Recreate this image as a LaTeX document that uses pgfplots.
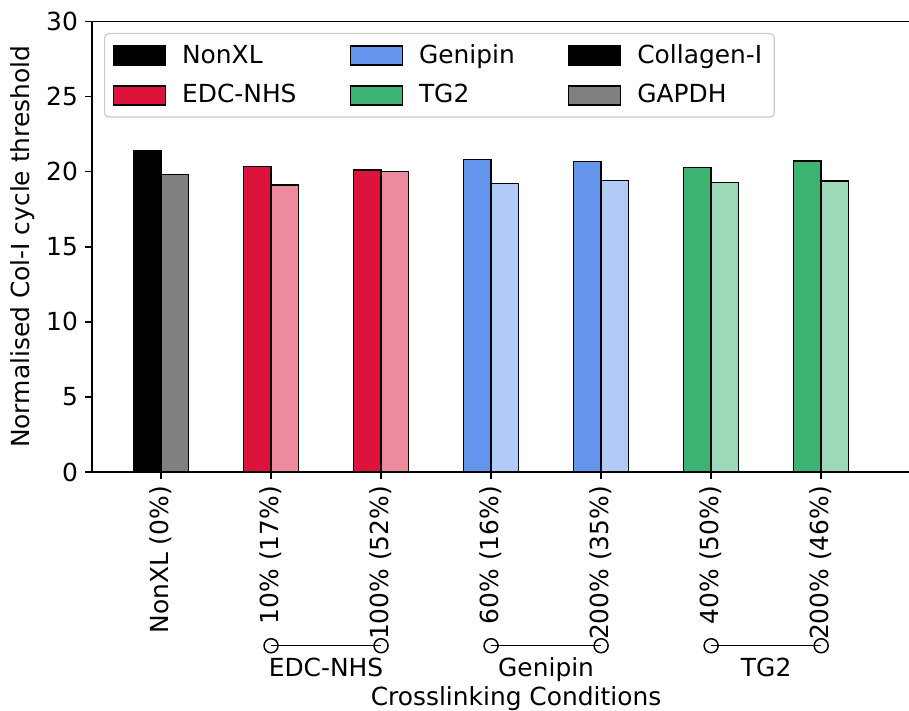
\documentclass[border=0pt]{standalone}
\usepackage{fontspec}
\setmainfont{DejaVu Sans}
\usepackage{pgfplots}
\pgfplotsset{compat=1.18}
\definecolor{crim}{HTML}{DC143C}
\definecolor{crimL}{HTML}{ED8A9E}
\definecolor{corn}{HTML}{6495ED}
\definecolor{cornL}{HTML}{B2CAF6}
\definecolor{msg}{HTML}{3CB371}
\definecolor{msgL}{HTML}{9DD9B8}
\definecolor{grayL}{HTML}{808080}
\newcommand{\fs}{\fontsize{12.45}{15}\selectfont}
\begin{document}
\begin{tikzpicture}
\pgfplotsset{darkbar/.style={ybar, bar width=0.25, bar shift=-0.125, draw=black, line width=0.8pt, forget plot,
  error bars/y dir=both, error bars/y explicit}}
\pgfplotsset{lightbar/.style={ybar, bar width=0.25, bar shift=0.125, draw=black, line width=0.8pt, forget plot,
  error bars/y dir=both, error bars/y explicit}}
\begin{axis}[
  scale only axis, width=424pt, height=225.25pt,
  xmin=-0.627, xmax=7.08, ymin=0, ymax=30,
  axis line style={line width=0.8pt},
  tick align=outside, tick pos=left, major tick length=3.5pt,
  every tick/.style={line width=0.8pt, black},
  xtick={0,1,2,3,4,5,6},
  xticklabels={NonXL (0\%),10\% (17\%),100\% (52\%),60\% (16\%),200\% (35\%),40\% (50\%),200\% (46\%)},
  xticklabel style={rotate=90, anchor=east, font=\fs},
  ytick={0,5,10,15,20,25,30},
  yticklabel style={font=\fs},
  /pgf/number format/assume math mode=true,
  ylabel={Normalised Col-I cycle threshold},
  ylabel style={at={(axis description cs:0,0.5)}, anchor=center, yshift=34.75pt, font=\fs},
  xlabel={Crosslinking Conditions},
  xlabel style={at={(axis description cs:0.5,0)}, anchor=base, yshift=-116.5pt, font=\fs},
  clip=false,
  legend columns=3, legend cell align=left,
  legend image code/.code={\draw[#1, line width=0.75pt, sharp corners] (0pt,-4.75pt) rectangle (26pt,4.75pt);},
  legend style={at={(0,1)}, anchor=north west, xshift=6pt, yshift=-5.75pt,
    draw=black!20, line width=0.6pt, rounded corners=2pt, font=\fs,
    inner xsep=4pt, inner ysep=3.5pt, row sep=5pt,
    /tikz/every even column/.append style={column sep=24.5pt},
    /tikz/every odd column/.append style={column sep=6pt}},
  error bars/error bar style={line width=1.3pt, black},
  error bars/error mark=none,
]
\addlegendimage{fill=black, draw=black}\addlegendentry{NonXL}
\addlegendimage{fill=corn, draw=black}\addlegendentry{Genipin}
\addlegendimage{fill=black, draw=black}\addlegendentry{Collagen-I}
\addlegendimage{fill=crim, draw=black}\addlegendentry{EDC-NHS}
\addlegendimage{fill=msg, draw=black}\addlegendentry{TG2}
\addlegendimage{fill=grayL, draw=black}\addlegendentry{GAPDH}
\addplot[darkbar, fill=black] coordinates {(0,21.42) +- (0,0.03)};
\addplot[lightbar, fill=grayL] coordinates {(0,19.80) +- (0,0.17)};
\addplot[darkbar, fill=crim] coordinates {(1,20.35) +- (0,0.02) (2,20.10) +- (0,0.03)};
\addplot[lightbar, fill=crimL] coordinates {(1,19.10) +- (0,0.02) (2,20.00) +- (0,0.17)};
\addplot[darkbar, fill=corn] coordinates {(3,20.82) +- (0,0.02) (4,20.69) +- (0,0.03)};
\addplot[lightbar, fill=cornL] coordinates {(3,19.20) +- (0,0.02) (4,19.40) +- (0,0.02)};
\addplot[darkbar, fill=msg] coordinates {(5,20.29) +- (0,0.05) (6,20.73) +- (0,0.02)};
\addplot[lightbar, fill=msgL] coordinates {(5,19.29) +- (0,0.02) (6,19.36) +- (0,0.02)};
\addplot[black, line width=0.75pt, mark=o, mark size=3.5pt, mark options={fill=white}, forget plot] coordinates {(1,-11.57) (2,-11.57)};
\addplot[black, line width=0.75pt, mark=o, mark size=3.5pt, mark options={fill=white}, forget plot] coordinates {(3,-11.57) (4,-11.57)};
\addplot[black, line width=0.75pt, mark=o, mark size=3.5pt, mark options={fill=white}, forget plot] coordinates {(5,-11.57) (6,-11.57)};
\node[anchor=base, font=\fs] at (axis cs:1.5,-13.65) {EDC-NHS};
\node[anchor=base, font=\fs] at (axis cs:3.5,-13.65) {Genipin};
\node[anchor=base, font=\fs] at (axis cs:5.5,-13.65) {TG2};
\coordinate (sw) at (rel axis cs:0,0);
\coordinate (nw) at (rel axis cs:0,1);
\end{axis}
\pgfresetboundingbox
\path[use as bounding box] ([xshift=-46pt,yshift=-119.5pt]sw) rectangle ([xshift=408.5pt,yshift=10.75pt]nw);
\end{tikzpicture}
\end{document}
